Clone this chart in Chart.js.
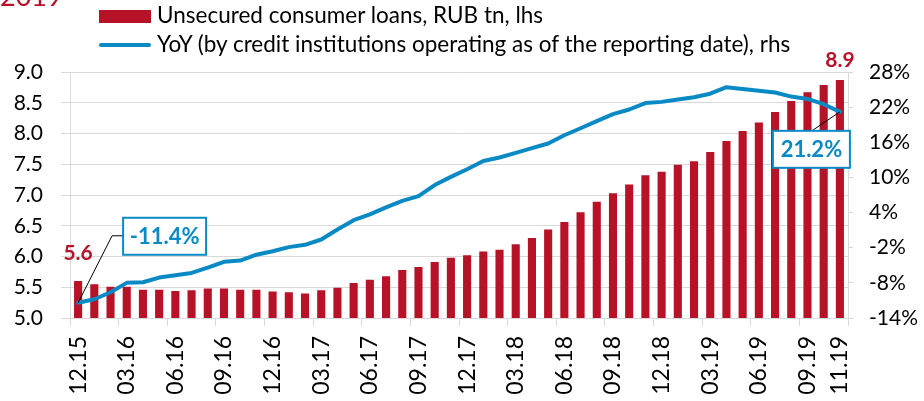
<!DOCTYPE html>
<html>
<head>
<meta charset="utf-8">
<script src="https://cdn.jsdelivr.net/npm/chart.js@4"></script>
<style>
    body { margin: 0; background: #fff; }
    #wrap { position: relative; width: 924px; height: 401px; overflow: hidden; font-family: Lato, sans-serif; }
    .txt { position: absolute; white-space: nowrap; color: #000; }
</style>
</head>
<body>
<div id="wrap">
    <canvas id="loansChart"></canvas>
    <div class="txt" style="left:0; top:-18px; font-size:27px; line-height:27px; color:#b71227;">2019</div>
    <div style="position:absolute; left:99px; top:10px; width:52px; height:13px; background:#b71227;"></div>
    <div class="txt" style="left:157px; top:3px; font-size:22.5px; line-height:23px;">Unsecured consumer loans, RUB tn, lhs</div>
    <div style="position:absolute; left:99px; top:43px; width:52px; height:4px; background:#0a8ac4; border-radius:2px;"></div>
    <div class="txt" style="left:157px; top:32px; font-size:22.5px; line-height:23px;">YoY (by credit institutions operating as of the reporting date), rhs</div>
</div>
<script>
// Monthly data, 12.15 - 11.19
const months = [
    '12.15', '01.16', '02.16', '03.16', '04.16', '05.16', '06.16', '07.16', '08.16', '09.16', '10.16', '11.16',
    '12.16', '01.17', '02.17', '03.17', '04.17', '05.17', '06.17', '07.17', '08.17', '09.17', '10.17', '11.17',
    '12.17', '01.18', '02.18', '03.18', '04.18', '05.18', '06.18', '07.18', '08.18', '09.18', '10.18', '11.18',
    '12.18', '01.19', '02.19', '03.19', '04.19', '05.19', '06.19', '07.19', '08.19', '09.19', '10.19', '11.19'
];

// Unsecured consumer loans, RUB tn
const loans = [
    5.60, 5.55, 5.51, 5.51, 5.46, 5.46, 5.44, 5.45, 5.48, 5.48, 5.46, 5.46,
    5.43, 5.42, 5.40, 5.45, 5.49, 5.57, 5.62, 5.68, 5.78, 5.83, 5.91, 5.98,
    6.02, 6.08, 6.11, 6.20, 6.30, 6.44, 6.56, 6.72, 6.89, 7.03, 7.17, 7.32,
    7.38, 7.49, 7.55, 7.70, 7.88, 8.04, 8.18, 8.35, 8.53, 8.67, 8.79, 8.87
];

// YoY growth, %
const yoy = [
    -11.4, -10.8, -9.6, -8.0, -7.9, -7.1, -6.7, -6.3, -5.4, -4.4, -4.2, -3.2,
    -2.6, -1.9, -1.5, -0.6, 1.1, 2.7, 3.7, 4.9, 6.0, 6.8, 8.7, 10.1,
    11.4, 12.8, 13.4, 14.2, 15.0, 15.8, 17.2, 18.4, 19.6, 20.8, 21.6, 22.7,
    22.9, 23.3, 23.7, 24.3, 25.4, 25.1, 24.8, 24.5, 23.8, 23.4, 22.5, 21.2
];

const RED = '#b71227';
const BLUE = '#0a8ac4';
const GRID = '#d9d9d9';
const FONT = 'Lato, sans-serif';

// Value labels on first/last bar and boxed callouts on first/last line point
const calloutPlugin = {
    id: 'callouts',
    afterDatasetsDraw(chart) {
        const ctx = chart.ctx;
        const last = loans.length - 1;
        const bars = chart.getDatasetMeta(0).data;
        const pts = chart.getDatasetMeta(1).data;

        ctx.save();
        ctx.font = 'bold 21px ' + FONT;
        ctx.fillStyle = RED;
        ctx.textAlign = 'center';
        ctx.textBaseline = 'bottom';
        ctx.fillText(loans[0].toFixed(1), bars[0].x, bars[0].y - 17);
        ctx.fillText(loans[last].toFixed(1), bars[last].x, bars[last].y - 9);

        function box(text, left, top, w, h) {
            ctx.fillStyle = '#fff';
            ctx.fillRect(left, top, w, h);
            ctx.strokeStyle = BLUE;
            ctx.lineWidth = 2;
            ctx.strokeRect(left, top, w, h);
            ctx.fillStyle = BLUE;
            ctx.font = 'bold 22px ' + FONT;
            ctx.textAlign = 'center';
            ctx.textBaseline = 'middle';
            ctx.fillText(text, left + w / 2, top + h / 2 + 1);
        }

        ctx.strokeStyle = '#000';
        ctx.lineWidth = 1;

        // first point
        const p0 = pts[0];
        ctx.beginPath();
        ctx.moveTo(p0.x, p0.y);
        ctx.lineTo(p0.x + 34, p0.y - 67);
        ctx.lineTo(p0.x + 45, p0.y - 67);
        ctx.stroke();
        box(yoy[0].toFixed(1) + '%', p0.x + 45, p0.y - 85, 83, 37);

        // last point
        const pl = pts[last];
        ctx.strokeStyle = '#000';
        ctx.lineWidth = 1;
        ctx.beginPath();
        ctx.moveTo(pl.x, pl.y);
        ctx.lineTo(pl.x - 28, pl.y + 19);
        ctx.stroke();
        box(yoy[last].toFixed(1) + '%', pl.x - 67, pl.y + 19, 77, 37);
        ctx.restore();
    }
};

const chart = new Chart(document.getElementById('loansChart'), {
    data: {
        labels: months,
        datasets: [
            {
                type: 'bar',
                label: 'Unsecured consumer loans, RUB tn, lhs',
                data: loans,
                backgroundColor: RED,
                barPercentage: 0.5,
                categoryPercentage: 1.0,
                yAxisID: 'y',
                order: 2
            },
            {
                type: 'line',
                label: 'YoY (by credit institutions operating as of the reporting date), rhs',
                data: yoy,
                borderColor: BLUE,
                borderWidth: 4,
                borderJoinStyle: 'round',
                borderCapStyle: 'round',
                pointRadius: 0,
                tension: 0,
                fill: false,
                yAxisID: 'y2',
                order: 1
            }
        ]
    },
    options: {
        responsive: true,
        maintainAspectRatio: false,
        animation: false,
        layout: { padding: { top: 72 } },
        plugins: {
            legend: { display: false },
            tooltip: { enabled: false }
        },
        scales: {
            x: {
                offset: true,
                grid: {
                    offset: true,
                    drawOnChartArea: false,
                    drawTicks: true,
                    tickLength: 8,
                    color: c => (c.index === undefined || c.index % 3 === 0) ? GRID : 'rgba(0,0,0,0)'
                },
                border: { color: GRID },
                ticks: {
                    autoSkip: false,
                    minRotation: 90,
                    maxRotation: 90,
                    padding: 10,
                    color: '#000',
                    font: { family: FONT, size: 23 },
                    callback: (v, i) => (i % 3 === 0 || i === months.length - 1) ? months[i] : ''
                },
                afterFit: s => { s.height = 83; }
            },
            y: {
                position: 'left',
                min: 5,
                max: 9,
                grid: { color: GRID, tickLength: 9 },
                border: { color: GRID },
                ticks: {
                    stepSize: 0.5,
                    padding: 18,
                    color: '#000',
                    font: { family: FONT, size: 21 },
                    callback: v => v.toFixed(1)
                },
                afterFit: s => { s.width = 70; }
            },
            y2: {
                position: 'right',
                min: -14,
                max: 28,
                grid: { drawOnChartArea: false, color: GRID, tickLength: 5 },
                border: { color: GRID },
                ticks: {
                    stepSize: 6,
                    padding: 16,
                    color: '#000',
                    font: { family: FONT, size: 21 },
                    callback: v => v + '%'
                },
                afterFit: s => { s.width = 76; }
            }
        }
    },
    plugins: [calloutPlugin]
});
</script>
</body>
</html>
